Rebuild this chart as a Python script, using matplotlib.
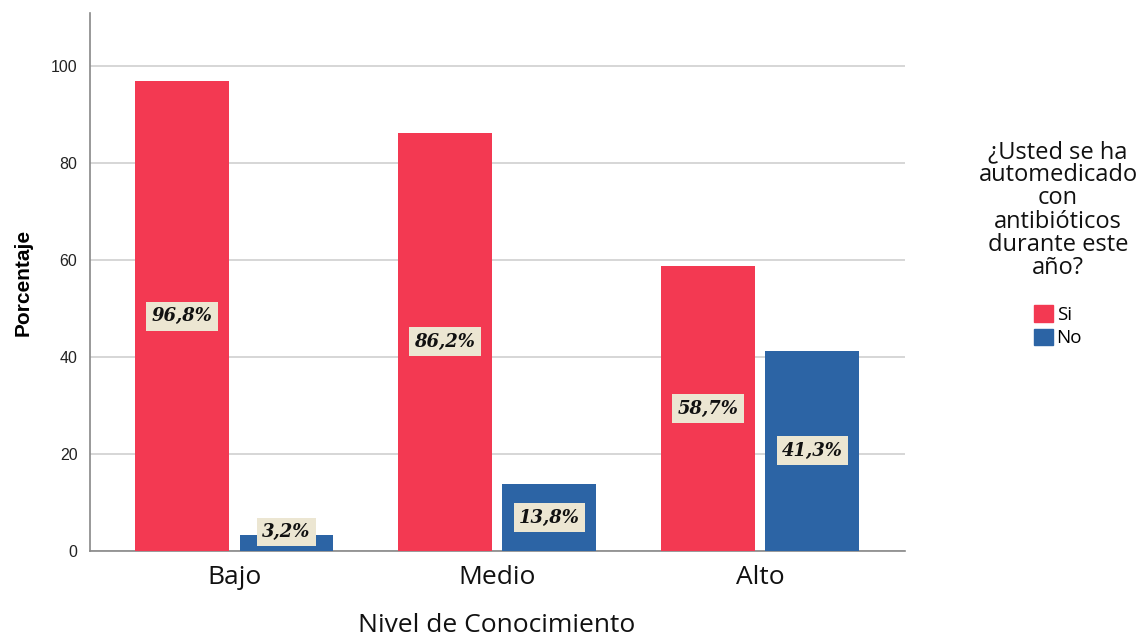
import matplotlib.pyplot as plt
import numpy as np
from matplotlib.patches import Patch

# niveles de conocimiento y porcentaje de automedicación
niveles = ['Bajo', 'Medio', 'Alto']
si_vals = [96.8, 86.2, 58.7]
no_vals = [3.2, 13.8, 41.3]
series = ['Si', 'No']
colores = ['#F33952', '#2C64A5']

fig = plt.figure(figsize=(11.38, 6.37), dpi=100)
ax = fig.add_axes([90 / 1138, 1 - 551 / 637, 815 / 1138, 538 / 637])

x = np.arange(len(niveles))
w = 0.357
off = 0.199

ax.bar(x - off, si_vals, w, color=colores[0], zorder=3)
ax.bar(x + off, no_vals, w, color=colores[1], zorder=3)

# etiquetas de porcentaje en el centro de cada barra
for xs, vals in [(x - off, si_vals), (x + off, no_vals)]:
    for xi, v in zip(xs, vals):
        y = max(v / 2, 3.9)
        ax.text(xi, y, f'{v:.1f}%'.replace('.', ','), ha='center', va='center',
                fontsize=13, fontweight='bold', fontstyle='italic',
                family='DejaVu Serif', color='#111111', zorder=5,
                bbox=dict(boxstyle='square,pad=0.3', fc='#ECE6D2', ec='none'))

ax.set_xlim(-0.548, 2.551)
ax.set_ylim(0, 110.9)
ax.set_yticks([0, 20, 40, 60, 80, 100])
ax.set_xticks(x)
ax.set_xticklabels(niveles, fontsize=19, family='Open Sans')
ax.tick_params(axis='y', length=0, labelsize=11.5, pad=9, labelcolor='#222222')
ax.tick_params(axis='x', length=0, pad=10, labelcolor='#111111')
for lbl in ax.get_yticklabels():
    lbl.set_family('Liberation Sans')

ax.grid(axis='y', color='#D0D0D0', linewidth=1.2, zorder=0)
for s in ['top', 'right']:
    ax.spines[s].set_visible(False)
ax.spines['left'].set_color('#888888')
ax.spines['bottom'].set_color('#888888')
ax.spines['left'].set_linewidth(1.2)
ax.spines['bottom'].set_linewidth(1.2)

ax.set_ylabel('Porcentaje', fontsize=15, fontweight='bold', family='Liberation Sans', labelpad=13)
fig.text(497 / 1138, 1 - 632 / 637, 'Nivel de Conocimiento', ha='center', va='baseline',
         fontsize=19, family='Open Sans', color='#111111')

# leyenda con el título centrado encima
fig.text(1058 / 1138, 1 - 210 / 637,
         '¿Usted se ha\nautomedicado\ncon\nantibióticos\ndurante este\naño?',
         ha='center', va='center', fontsize=17, family='Open Sans',
         linespacing=0.96, color='#111111')
handles = [Patch(color=c, label=s) for c, s in zip(colores, series)]
fig.legend(handles=handles, loc='upper left', bbox_to_anchor=(1021 / 1138, 1 - 292 / 637),
           frameon=False, prop={'family': 'Open Sans', 'size': 13.5},
           handlelength=1.0, handleheight=1.0, handletextpad=0.2, labelspacing=0.25,
           borderpad=0.2)

fig.savefig('out.png', dpi=100)
